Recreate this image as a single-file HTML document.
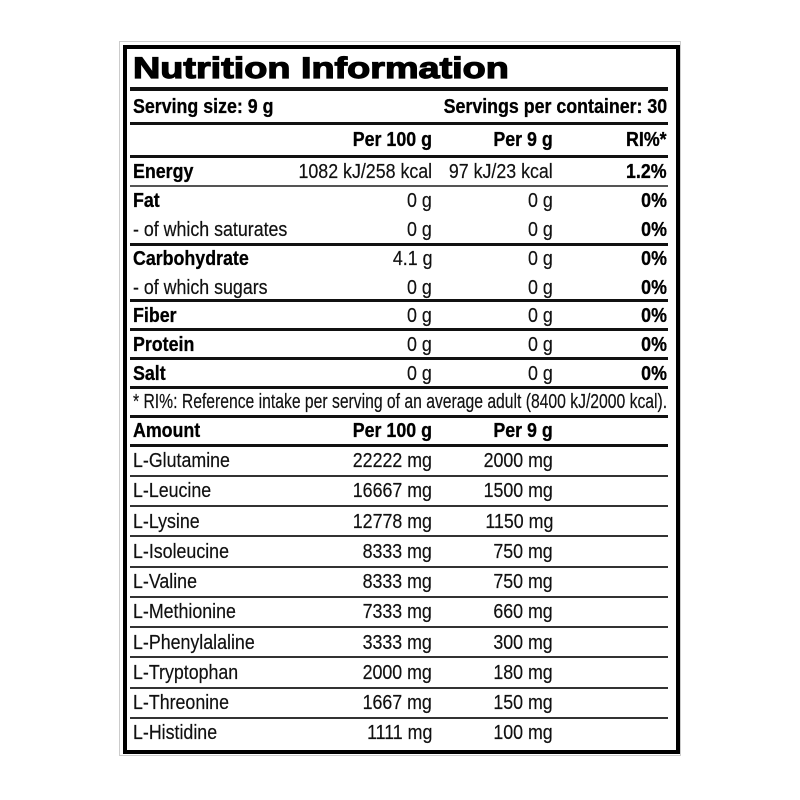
<!DOCTYPE html>
<html><head><meta charset="utf-8"><style>
body{margin:0;background:#fff;}
#c{position:relative;width:800px;height:800px;background:#fff;font-family:"Liberation Sans",Arial,sans-serif;color:#111;}
.b{position:absolute;}
.l{position:absolute;left:130px;width:538px;background:#111;}
.t{position:absolute;font-size:20px;line-height:22px;white-space:nowrap;transform:scaleX(.89);transform-origin:left center;-webkit-text-stroke:0.2px #111;}
.r{transform-origin:right center;text-align:right;}
.bold{font-weight:bold;color:#000;-webkit-text-stroke:0.3px #000;}
</style></head><body><div id="c">
<div class="b" style="left:119px;top:41px;width:560px;height:713px;border:1px solid #ccc;"></div>
<div class="b" style="left:123px;top:45px;width:549px;height:701px;border:4px solid #000;"></div>
<div class="t bold" style="left:133px;top:51px;font-size:30px;line-height:36px;transform:scaleX(1.26);-webkit-text-stroke:1.2px #000;">Nutrition Information</div>
<div class="l" style="top:87px;height:4px;"></div>
<div class="t bold" style="left:133px;top:96px;">Serving size: 9 g</div>
<div class="t bold r" style="right:133px;top:96px;">Servings per container: 30</div>
<div class="l" style="top:122px;height:3px;"></div>
<div class="t bold r" style="right:368px;top:129px;">Per 100 g</div>
<div class="t bold r" style="right:247px;top:129px;">Per 9 g</div>
<div class="t bold r" style="right:133px;top:129px;">RI%*</div>
<div class="l" style="top:155px;height:3px;"></div>
<div class="t bold" style="left:133px;top:161px;">Energy</div>
<div class="t r" style="right:368px;top:161px;">1082 kJ/258 kcal</div>
<div class="t r" style="right:247px;top:161px;">97 kJ/23 kcal</div>
<div class="t bold r" style="right:133px;top:161px;">1.2%</div>
<div class="l" style="top:185px;height:2px;background:#555;"></div>

<div class="t bold" style="left:133px;top:190px;">Fat</div>
<div class="t r" style="right:368px;top:190px;">0 g</div><div class="t r" style="right:247px;top:190px;">0 g</div><div class="t bold r" style="right:133px;top:190px;">0%</div>
<div class="t" style="left:133px;top:219px;">- of which saturates</div>
<div class="t r" style="right:368px;top:219px;">0 g</div><div class="t r" style="right:247px;top:219px;">0 g</div><div class="t bold r" style="right:133px;top:219px;">0%</div>
<div class="l" style="top:243px;height:3px;"></div>
<div class="t bold" style="left:133px;top:248px;">Carbohydrate</div>
<div class="t r" style="right:368px;top:248px;">4.1 g</div><div class="t r" style="right:247px;top:248px;">0 g</div><div class="t bold r" style="right:133px;top:248px;">0%</div>
<div class="t" style="left:133px;top:277px;">- of which sugars</div>
<div class="t r" style="right:368px;top:277px;">0 g</div><div class="t r" style="right:247px;top:277px;">0 g</div><div class="t bold r" style="right:133px;top:277px;">0%</div>
<div class="l" style="top:299px;height:3px;"></div>
<div class="t bold" style="left:133px;top:305px;">Fiber</div>
<div class="t r" style="right:368px;top:305px;">0 g</div><div class="t r" style="right:247px;top:305px;">0 g</div><div class="t bold r" style="right:133px;top:305px;">0%</div>
<div class="l" style="top:328px;height:3px;"></div>
<div class="t bold" style="left:133px;top:334px;">Protein</div>
<div class="t r" style="right:368px;top:334px;">0 g</div><div class="t r" style="right:247px;top:334px;">0 g</div><div class="t bold r" style="right:133px;top:334px;">0%</div>
<div class="l" style="top:357px;height:3px;"></div>
<div class="t bold" style="left:133px;top:363px;">Salt</div>
<div class="t r" style="right:368px;top:363px;">0 g</div><div class="t r" style="right:247px;top:363px;">0 g</div><div class="t bold r" style="right:133px;top:363px;">0%</div>
<div class="l" style="top:386px;height:3px;"></div>
<div class="t" style="left:133px;top:391px;transform:scaleX(.785);">* RI%: Reference intake per serving of an average adult (8400 kJ/2000 kcal).</div>
<div class="l" style="top:415px;height:3px;"></div>
<div class="t bold" style="left:133px;top:420px;">Amount</div>
<div class="t bold r" style="right:368px;top:420px;">Per 100 g</div>
<div class="t bold r" style="right:247px;top:420px;">Per 9 g</div>
<div class="l" style="top:444px;height:3px;"></div>

<div class="t" style="left:133px;top:450px;">L-Glutamine</div><div class="t r" style="right:368px;top:450px;">22222 mg</div><div class="t r" style="right:247px;top:450px;">2000 mg</div>
<div class="l" style="top:475px;height:2px;background:#333;"></div>
<div class="t" style="left:133px;top:480px;">L-Leucine</div><div class="t r" style="right:368px;top:480px;">16667 mg</div><div class="t r" style="right:247px;top:480px;">1500 mg</div>
<div class="l" style="top:505px;height:2px;background:#333;"></div>
<div class="t" style="left:133px;top:511px;">L-Lysine</div><div class="t r" style="right:368px;top:511px;">12778 mg</div><div class="t r" style="right:247px;top:511px;">1150 mg</div>
<div class="l" style="top:535px;height:2px;background:#333;"></div>
<div class="t" style="left:133px;top:541px;">L-Isoleucine</div><div class="t r" style="right:368px;top:541px;">8333 mg</div><div class="t r" style="right:247px;top:541px;">750 mg</div>
<div class="l" style="top:566px;height:2px;background:#333;"></div>
<div class="t" style="left:133px;top:571px;">L-Valine</div><div class="t r" style="right:368px;top:571px;">8333 mg</div><div class="t r" style="right:247px;top:571px;">750 mg</div>
<div class="l" style="top:596px;height:2px;background:#333;"></div>
<div class="t" style="left:133px;top:601px;">L-Methionine</div><div class="t r" style="right:368px;top:601px;">7333 mg</div><div class="t r" style="right:247px;top:601px;">660 mg</div>
<div class="l" style="top:626px;height:2px;background:#333;"></div>
<div class="t" style="left:133px;top:632px;">L-Phenylalaline</div><div class="t r" style="right:368px;top:632px;">3333 mg</div><div class="t r" style="right:247px;top:632px;">300 mg</div>
<div class="l" style="top:656px;height:2px;background:#333;"></div>
<div class="t" style="left:133px;top:662px;">L-Tryptophan</div><div class="t r" style="right:368px;top:662px;">2000 mg</div><div class="t r" style="right:247px;top:662px;">180 mg</div>
<div class="l" style="top:687px;height:2px;background:#333;"></div>
<div class="t" style="left:133px;top:692px;">L-Threonine</div><div class="t r" style="right:368px;top:692px;">1667 mg</div><div class="t r" style="right:247px;top:692px;">150 mg</div>
<div class="l" style="top:717px;height:2px;background:#333;"></div>
<div class="t" style="left:133px;top:722px;">L-Histidine</div><div class="t r" style="right:368px;top:722px;">1111 mg</div><div class="t r" style="right:247px;top:722px;">100 mg</div>
</div></body></html>
